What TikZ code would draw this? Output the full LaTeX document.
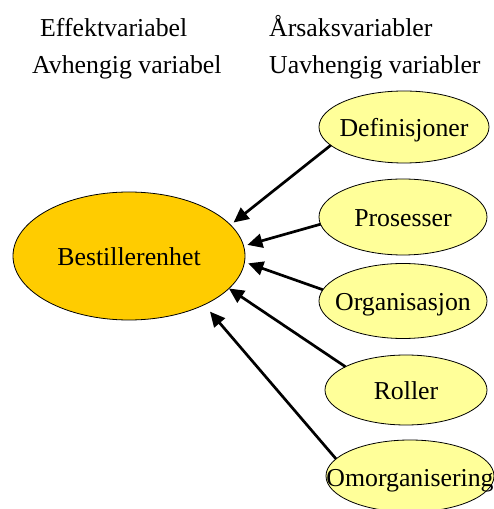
\documentclass[tikz,border=0pt]{standalone}
\usepackage{fontspec}
\setmainfont{Liberation Serif}
\usetikzlibrary{shapes.geometric,arrows.meta}
\definecolor{effekt}{HTML}{FFCC00}
\definecolor{aarsak}{HTML}{FFFF99}
\tikzset{
  oval/.style={ellipse, draw=black, line width=0.8pt, inner sep=0pt, outer sep=0pt},
  causeoval/.style={oval, fill=aarsak},
  ovaltext/.style={text height=18pt, text depth=0pt, inner sep=0pt, yshift=-1pt},
  heading/.style={anchor=base west, inner sep=0pt},
  link/.style={line width=2.7pt, -{Triangle[length=15pt,width=14pt]}, shorten >=4pt}
}
\begin{document}
\begin{tikzpicture}[x=1pt, y=1pt, font=\fontsize{25.8}{30}\selectfont]
\useasboundingbox (0,0) rectangle (494,509);

% column headings
\node[heading] (h1) at (40,472) {Effektvariabel};
\node[heading] (h2) at (32,435) {Avhengig variabel};
\node[heading] (h3) at (269,472) {Årsaksvariabler};
\node[heading] (h4) at (269,435) {Uavhengig variabler};

% dependent variable
\node[oval, fill=effekt, minimum width=232pt, minimum height=128pt,
      label={[ovaltext]center:Bestillerenhet}] (best) at (129,253) {};

% explanatory variables
\node[causeoval, minimum width=170pt, minimum height=72pt,
      label={[ovaltext]center:Definisjoner}] (def) at (404,382) {};
\node[causeoval, minimum width=168pt, minimum height=76pt,
      label={[ovaltext]center:Prosesser}] (pro) at (403,292) {};
\node[causeoval, minimum width=168pt, minimum height=75pt,
      label={[ovaltext]center:Organisasjon}] (org) at (403,208) {};
\node[causeoval, minimum width=162pt, minimum height=70pt,
      label={[ovaltext]center:Roller}] (rol) at (406,119) {};
\node[causeoval, minimum width=168pt, minimum height=72pt,
      label={[ovaltext]center:Omorganisering}] (omo) at (410,33) {};

% influence arrows
\draw[link] (def.194) -- (best.17);
\draw[link] (pro.185) -- (best.5);
\draw[link] (org.172) -- (best.-3);
\draw[link, shorten >=0pt] (rol.159) -- (best.-18);
\draw[link, shorten >=9pt] (omo.167) -- (best.-33);
\end{tikzpicture}
\end{document}
